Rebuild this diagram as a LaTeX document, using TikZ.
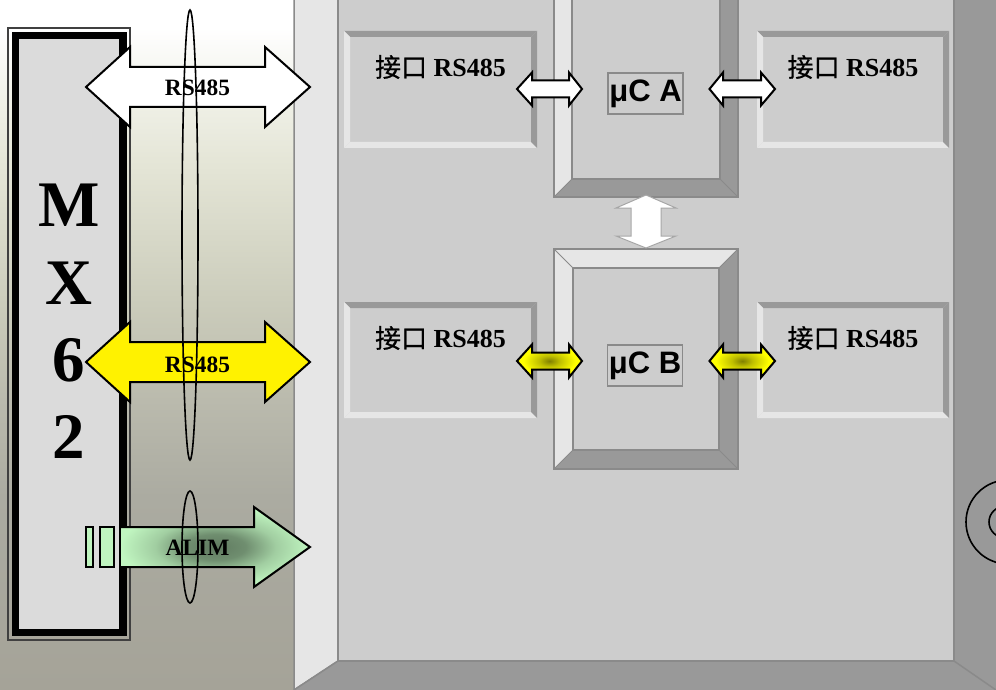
\documentclass[tikz,border=0pt]{standalone}
\usepackage{fontspec}
\setmainfont{Liberation Serif}
\newfontfamily\cjk[FakeBold=0.6]{Noto Sans CJK SC}
\newfontfamily\arialf{Liberation Sans}
\definecolor{panel}{HTML}{CDCDCD}
\definecolor{lite}{HTML}{E6E6E6}
\definecolor{dark}{HTML}{999999}
\definecolor{edge}{HTML}{8A8A8A}
\definecolor{mint}{HTML}{C0F5C0}
\definecolor{bgA}{HTML}{FFFFFF}
\definecolor{bgB}{HTML}{F0F1E8}
\definecolor{bgC}{HTML}{E4E5D6}
\definecolor{bgD}{HTML}{CBCCBB}
\definecolor{bgE}{HTML}{BABAAD}
\definecolor{bgF}{HTML}{ABABA1}
\definecolor{bgG}{HTML}{A5A398}
\pgfdeclareverticalshading{bgband}{100bp}{
  color(0bp)=(bgG); color(25bp)=(bgG); color(39bp)=(bgF); color(46bp)=(bgE);
  color(53bp)=(bgD); color(63bp)=(bgC); color(68bp)=(bgB); color(73bp)=(bgA); color(100bp)=(bgA)}
\pgfdeclareradialshading{greenglow}{\pgfpoint{0bp}{0bp}}{
  color(0bp)=(black!50!mint); color(8bp)=(black!42!mint); color(16bp)=(black!16!mint); color(25bp)=(mint); color(50bp)=(mint)}
\pgfdeclareradialshading{yellowglow}{\pgfpoint{0bp}{0bp}}{
  color(0bp)=(black!50!yellow); color(8bp)=(black!25!yellow); color(20bp)=(yellow); color(50bp)=(yellow)}
\tikzset{
  pxgrid/.style={x=1pt,y=-1pt},
  bigarrow/.style={draw=black,line width=2pt,miter limit=10},
  smallarrow/.style={draw=black,line width=2pt,miter limit=10},
  wallline/.style={draw=edge,line width=1.5pt},
  ring/.style={draw=black,line width=1.6pt},
  ifacetext/.style={inner sep=0pt,font=\fontsize{26}{30}\bfseries\selectfont},
  mxtext/.style={inner sep=0pt,font=\fontsize{65}{70}\bfseries\selectfont},
  arrowtext/.style={inner sep=0pt,font=\fontsize{23.4}{26}\bfseries\selectfont},
  cpulabel/.style={draw=edge,line width=1.5pt,minimum width=75pt,minimum height=41pt,inner sep=0pt,
    font=\arialf\fontsize{31}{34}\bfseries\selectfont},
}
% x1 y1 x2 y2 bevel topcolour rightcolour bottomcolour leftcolour
\newcommand{\bevelbox}[9]{%
  \fill[panel] (#1,#2) rectangle (#3,#4);
  \fill[#6] (#1,#2) -- (#3,#2) -- (#3-#5,#2+#5) -- (#1+#5,#2+#5) -- cycle;
  \fill[#8] (#3,#4) -- (#1,#4) -- (#1+#5,#4-#5) -- (#3-#5,#4-#5) -- cycle;
  \fill[#7] (#3,#2) -- (#3,#4) -- (#3-#5,#4-#5) -- (#3-#5,#2+#5) -- cycle;
  \fill[#9] (#1,#4) -- (#1,#2) -- (#1+#5,#2+#5) -- (#1+#5,#4-#5) -- cycle;
}
% controller box: bevel plus its outlines
\newcommand{\cpubox}[5]{%
  \bevelbox{#1}{#2}{#3}{#4}{#5}{lite}{dark}{dark}{lite}
  \draw[edge,line width=1.6pt] (#1,#2) rectangle (#3,#4);
  \draw[edge,line width=1.2pt] (#1+#5,#2+#5) rectangle (#3-#5,#4-#5);
  \draw[edge,line width=.8pt] (#1,#2) -- (#1+#5,#2+#5) (#3,#2) -- (#3-#5,#2+#5) (#3,#4) -- (#3-#5,#4-#5) (#1,#4) -- (#1+#5,#4-#5);
}
% double arrow path: left tip, left base, right base, right tip, cy, head half, shaft half
\newcommand{\dblpath}[7]{(#1,#5) -- (#2,#5-#6) -- (#2,#5-#7) -- (#3,#5-#7) -- (#3,#5-#6) -- (#4,#5)
  -- (#3,#5+#6) -- (#3,#5+#7) -- (#2,#5+#7) -- (#2,#5+#6) -- cycle}
\begin{document}
\begin{tikzpicture}[pxgrid]
\useasboundingbox (0,0) rectangle (996,690);
\clip (0,0) rectangle (996,690);
% background band
\shade[shading=bgband] (0,0) rectangle (294,690);
% walls
\fill[panel] (338,0) rectangle (954,661);
\filldraw[fill=lite,wallline] (294,-5) -- (338,-5) -- (338,661) -- (294,690) -- cycle;
\fill[dark] (954,-5) rectangle (1000,695);
\fill[dark] (294,690) -- (338,661) -- (954,661) -- (996,690) -- cycle;
\draw[wallline] (338,-5) -- (338,661) -- (954,661) -- (954,-5);
\draw[wallline] (338,661) -- (294,690);
\draw[wallline] (954,661) -- (996,690);
% interface boxes
\bevelbox{344}{31}{537}{148}{6}{dark}{dark}{lite}{lite}
\bevelbox{757}{31}{949}{148}{6}{dark}{dark}{lite}{lite}
\bevelbox{344}{302}{537}{418}{6}{dark}{dark}{lite}{lite}
\bevelbox{757}{302}{949}{418}{6}{dark}{dark}{lite}{lite}
% controllers
\cpubox{554}{-40}{738}{197}{18}
\cpubox{554}{249}{738}{469}{19}
% MX62 frame
\draw[draw=black!75,line width=1.5pt] (8,28) rectangle (130,640);
\fill[black] (12,32) rectangle (127,636);
\fill[lite!95!black] (19,39) rectangle (119,629);
\node[mxtext] (mxm) at (69,205) {M};
\node[mxtext] (mxx) at (69,283) {X};
\node[mxtext] (mxs) at (69,360) {6};
\node[mxtext] (mxt) at (69,437) {2};
% large arrows
\filldraw[fill=white,bigarrow] \dblpath{86}{130}{265}{310}{87}{40}{20};
\filldraw[fill=yellow,bigarrow] \dblpath{86}{130}{265}{310}{362}{40}{20};
\filldraw[fill=mint,draw=black,line width=1.8pt] (86,527) rectangle (93,567);
\filldraw[fill=mint,draw=black,line width=1.8pt] (100,527) rectangle (114,567);
\shade[shading=greenglow] (121,527) -- (254,527) -- (254,507) -- (310,547) -- (254,587) -- (254,567) -- (121,567) -- cycle;
\draw[bigarrow] (121,527) -- (254,527) -- (254,507) -- (310,547) -- (254,587) -- (254,567) -- (121,567);
\node[arrowtext] (lbla) at (197.5,88) {RS485};
\node[arrowtext] (lblb) at (197.5,365) {RS485};
\node[arrowtext] (lblc) at (197.5,548) {ALIM};
% rings
\draw[ring] (190,235) ellipse [x radius=8,y radius=225];
\draw[ring] (190,547) ellipse [x radius=8,y radius=56];
\draw[ring] (1008,522) circle [radius=42];
\draw[ring] (1004.6,522) circle [radius=15.6];
% small arrows
\filldraw[fill=white,smallarrow] \dblpath{517}{532}{569}{582}{89}{16.5}{8.5};
\filldraw[fill=white,smallarrow] \dblpath{709.5}{723}{761}{775}{89}{16.5}{8.5};
\shade[shading=yellowglow] \dblpath{517}{532}{569}{582}{361}{16.5}{8.5};
\draw[smallarrow] \dblpath{517}{532}{569}{582}{361}{16.5}{8.5};
\shade[shading=yellowglow] \dblpath{709.5}{723}{761}{775}{361}{16.5}{8.5};
\draw[smallarrow] \dblpath{709.5}{723}{761}{775}{361}{16.5}{8.5};
% link between controllers
\filldraw[fill=white,draw=black!35,line width=1pt] (646,195) -- (676,208) -- (661,208) -- (661,236) -- (676,236) -- (646,248) -- (616,236) -- (631,236) -- (631,208) -- (616,208) -- cycle;
% labels
\node[ifacetext] (ifa) at (440.5,67) {{\cjk\mdseries 接口} RS485};
\node[ifacetext] (ifb) at (853,67) {{\cjk\mdseries 接口} RS485};
\node[ifacetext] (ifc) at (440.5,338) {{\cjk\mdseries 接口} RS485};
\node[ifacetext] (ifd) at (853,338) {{\cjk\mdseries 接口} RS485};
\node[cpulabel] (cpua) at (645.5,93.5) {μC A};
\node[cpulabel] (cpub) at (645,365.5) {μC B};
\end{tikzpicture}
\end{document}
